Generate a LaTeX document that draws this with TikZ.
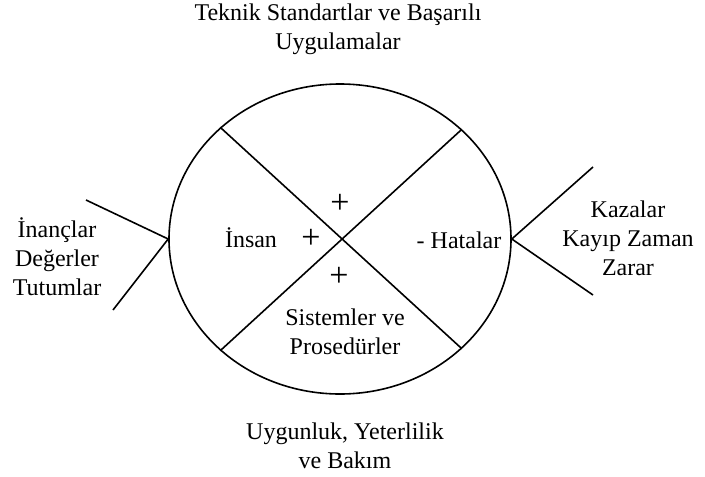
\documentclass[tikz,border=0pt]{standalone}
\usepackage{fontspec}
\setmainfont{Liberation Serif}
\usetikzlibrary{shapes.geometric}

\begin{document}
\begin{tikzpicture}[x=1pt, y=-1pt, line width=1.6pt,
	txt/.style={align=center, inner sep=0pt, font=\fontsize{24}{29}\selectfont},
	sign/.style={inner sep=0pt, font=\fontsize{34}{34}\selectfont}]
	\useasboundingbox (0,0) rectangle (705,477);
	%circle
	\node[draw, ellipse, minimum width=342pt, minimum height=310pt, inner sep=0pt] (ell) at (340,239) {};
	%cross
	\draw (ell.137.8) -- (ell.-42.2);
	\draw (ell.42.2) -- (ell.-137.8);
	%forks
	\coordinate (left up) at (86,200);
	\coordinate (left down) at (113,310);
	\coordinate (right up) at (593,167);
	\coordinate (right down) at (593,295);
	\draw (left up) -- (ell.west) -- (left down);
	\draw (right up) -- (ell.east) -- (right down);
	%labels
	\node[txt] (standart) at (338,29) {Teknik Standartlar ve Başarılı\\Uygulamalar};
	\node[txt] (bakim) at (345,446) {Uygunluk, Yeterlilik\\ve Bakım};
	\node[txt] (inanc) at (57,257) {İnançlar\\Değerler\\Tutumlar};
	\node[txt] (kaza) at (628,238) {Kazalar\\Kayıp Zaman\\Zarar};
	\node[txt] (insan) at (251,238) {İnsan};
	\node[txt] (hata) at (459,240) {- Hatalar};
	\node[txt] (sistem) at (345,332) {Sistemler ve\\Prosedürler};
	%signs
	\node[sign] (plus left) at (311,239) {+};
	\node[sign] (plus top) at (340,204) {+};
	\node[sign] (plus bottom) at (339,277) {+};
\end{tikzpicture}
\end{document}
